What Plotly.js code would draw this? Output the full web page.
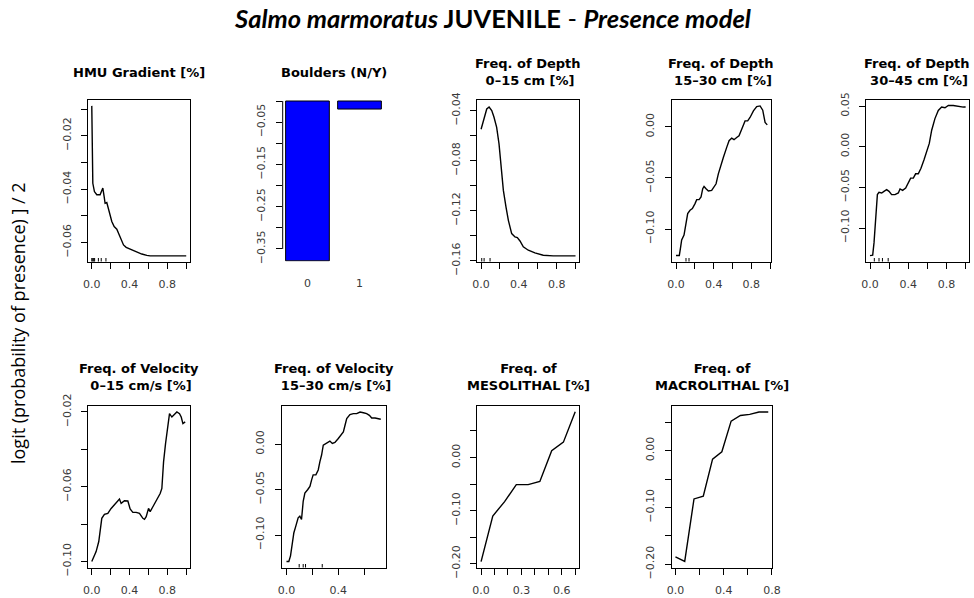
<!DOCTYPE html>
<html><head><meta charset="utf-8">
<script src="https://cdn.plot.ly/plotly-3.0.1.min.js"></script>
<style>html,body{margin:0;padding:0;background:#fff;}#chart{width:974px;height:598px;}</style>
</head><body><div id="chart"></div>
<script>
// ---------------- data ----------------
const hmuX = [0, 0.007, 0.011, 0.028, 0.053, 0.088, 0.099, 0.117, 0.131, 0.141, 0.159, 0.177, 0.194, 0.212, 0.237, 0.265, 0.290, 0.311, 0.336, 0.364, 0.399, 0.442, 0.484, 0.530, 0.583, 0.618, 0.724, 0.866, 1.0];
const hmuY = [-0.0088, -0.0253, -0.0378, -0.0409, -0.0421, -0.0421, -0.0409, -0.0396, -0.0428, -0.0453, -0.0450, -0.0471, -0.0496, -0.0521, -0.0540, -0.0550, -0.0571, -0.0590, -0.0609, -0.0618, -0.0623, -0.0630, -0.0638, -0.0643, -0.0648, -0.0650, -0.0650, -0.0650, -0.0650];
const hmuRug = [0.0, 0.01, 0.02, 0.03, 0.07, 0.1, 0.15];

const bouldersCat = ["0", "1"];
const bouldersVal = [-0.378, -0.019];

const depth015X = [0, 0.032, 0.060, 0.085, 0.113, 0.137, 0.165, 0.190, 0.211, 0.236, 0.264, 0.289, 0.324, 0.359, 0.384, 0.412, 0.447, 0.500, 0.570, 0.658, 0.764, 1.0];
const depth015Y = [-0.0549, -0.0453, -0.0387, -0.0371, -0.0400, -0.0453, -0.0533, -0.0665, -0.0825, -0.1037, -0.1170, -0.1276, -0.1382, -0.1409, -0.1414, -0.1441, -0.1488, -0.1515, -0.1536, -0.1555, -0.1560, -0.1560];
const depth015Rug = [0.007, 0.032, 0.095];

const depth1530X = [0, 0.035, 0.050, 0.060, 0.085, 0.103, 0.124, 0.149, 0.174, 0.202, 0.220, 0.245, 0.266, 0.284, 0.298, 0.319, 0.344, 0.379, 0.404, 0.426, 0.450, 0.479, 0.504, 0.539, 0.564, 0.592, 0.617, 0.645, 0.670, 0.706, 0.734, 0.762, 0.787, 0.823, 0.858, 0.894, 0.922, 0.947, 0.970];
const depth1530Y = [-0.1259, -0.1259, -0.1170, -0.1107, -0.1058, -0.0977, -0.0848, -0.0816, -0.0800, -0.0751, -0.0712, -0.0712, -0.0686, -0.0605, -0.0583, -0.0605, -0.0628, -0.0621, -0.0589, -0.0557, -0.0460, -0.0362, -0.0298, -0.0201, -0.0136, -0.0110, -0.0126, -0.0104, -0.0087, -0.0006, 0.0058, 0.0058, 0.0091, 0.0155, 0.0197, 0.0204, 0.0162, 0.0042, 0.0019];
const depth1530Rug = [0.106, 0.138];

const depth3045X = [0, 0.028, 0.042, 0.052, 0.063, 0.077, 0.094, 0.122, 0.146, 0.174, 0.199, 0.226, 0.261, 0.296, 0.314, 0.341, 0.373, 0.401, 0.425, 0.453, 0.477, 0.505, 0.533, 0.564, 0.599, 0.620, 0.645, 0.679, 0.714, 0.749, 0.784, 0.819, 0.871, 0.923, 0.976, 1.0];
const depth3045Y = [-0.1340, -0.1333, -0.1180, -0.0976, -0.0732, -0.0589, -0.0561, -0.0569, -0.0549, -0.0528, -0.0549, -0.0589, -0.0589, -0.0569, -0.0520, -0.0537, -0.0508, -0.0447, -0.0386, -0.0386, -0.0333, -0.0333, -0.0264, -0.0163, -0.0041, 0.0041, 0.0203, 0.0346, 0.0447, 0.0488, 0.0480, 0.0508, 0.0508, 0.0496, 0.0488, 0.0488];
const depth3045Rug = [0.045, 0.094, 0.13, 0.19];

const vel015X = [0, 0.046, 0.074, 0.092, 0.106, 0.134, 0.170, 0.205, 0.240, 0.276, 0.293, 0.311, 0.329, 0.346, 0.382, 0.406, 0.435, 0.470, 0.505, 0.541, 0.558, 0.576, 0.601, 0.618, 0.647, 0.675, 0.700, 0.724, 0.742, 0.760, 0.781, 0.806, 0.823, 0.848, 0.876, 0.901, 0.929, 0.947, 0.965, 0.989];
const vel015Y = [-0.1000, -0.0947, -0.0893, -0.0822, -0.0769, -0.0748, -0.0742, -0.0716, -0.0698, -0.0680, -0.0666, -0.0689, -0.0680, -0.0675, -0.0676, -0.0719, -0.0737, -0.0737, -0.0742, -0.0769, -0.0774, -0.0760, -0.0716, -0.0733, -0.0707, -0.0680, -0.0653, -0.0636, -0.0609, -0.0467, -0.0369, -0.0280, -0.0209, -0.0227, -0.0214, -0.0200, -0.0209, -0.0227, -0.0262, -0.0253];

const vel1530X = [0, 0.018, 0.031, 0.044, 0.057, 0.072, 0.090, 0.103, 0.116, 0.129, 0.142, 0.163, 0.181, 0.194, 0.206, 0.227, 0.245, 0.258, 0.271, 0.284, 0.302, 0.323, 0.335, 0.354, 0.374, 0.400, 0.421, 0.439, 0.452, 0.465, 0.490, 0.516, 0.542, 0.568, 0.594, 0.619, 0.640, 0.658, 0.684, 0.728];
const vel1530Y = [-0.1291, -0.1291, -0.1229, -0.1102, -0.0975, -0.0902, -0.0811, -0.0793, -0.0829, -0.0629, -0.0538, -0.0502, -0.0465, -0.0393, -0.0338, -0.0338, -0.0284, -0.0193, -0.0120, -0.0011, 0.0007, 0.0018, 0.0033, 0.0007, 0.0018, 0.0062, 0.0098, 0.0135, 0.0207, 0.0280, 0.0324, 0.0335, 0.0335, 0.0353, 0.0345, 0.0335, 0.0316, 0.0287, 0.0287, 0.0273];
const vel1530Rug = [0.098, 0.129, 0.147, 0.276];

const mesoX = [0, 0.087, 0.175, 0.262, 0.350, 0.437, 0.525, 0.612, 0.700];
const mesoY = [-0.196, -0.110, -0.083, -0.051, -0.051, -0.045, 0.013, 0.029, 0.086];

const macroX = [0, 0.077, 0.154, 0.231, 0.308, 0.385, 0.462, 0.539, 0.616, 0.693, 0.770];
const macroY = [-0.187, -0.195, -0.085, -0.080, -0.015, -0.002, 0.052, 0.062, 0.064, 0.068, 0.068];

const panelTitles = ["HMU Gradient [%]", "Boulders (N/Y)", "Freq. of Depth<br>\u00A00\u201315 cm [%]", "Freq. of Depth<br>\u00A015\u201330 cm [%]", "Freq. of Depth<br>\u00A030\u201345 cm [%]",
  "Freq. of Velocity<br>\u00A00\u201315 cm/s [%]", "Freq. of Velocity<br>\u00A015\u201330 cm/s [%]", "Freq. of<br>MESOLITHAL [%]", "Freq. of<br>MACROLITHAL [%]"];
const mainTitle = "<b><i>Salmo marmoratus</i> JUVENILE</b> - <b><i>Presence model</i></b>";
const yLabel = "logit (probability of presence) ] / 2";

// ---------------- layout helpers ----------------
const W = 974, H = 598;
const MINUS = "\u2212";
function xd(l, r) { return [l / W, r / W]; }
function yd(t, b) { return [(H - b) / H, (H - t) / H]; }
function fmt(v, d) { return (v < -1e-12 ? MINUS : "") + Math.abs(v).toFixed(d); }
function tk(vals, labeled, d) {
  return { tickmode: "array", tickvals: vals, ticktext: vals.map(v => labeled.some(l => Math.abs(l - v) < 1e-9) ? fmt(v, d) : "") };
}
const tickFont = { family: "DejaVu Sans", size: 11, color: "#3a3a3a" };
function baseAxis(extra) {
  return Object.assign({ showline: true, mirror: true, linecolor: "#000", linewidth: 1, ticks: "outside", ticklen: 6, tickwidth: 1,
    tickcolor: "#000", showgrid: false, zeroline: false, tickfont: tickFont, fixedrange: true, ticklabelstandoff: 6 }, extra);
}

// panel geometry: [left, right, top, bottom] in px, x range, y range
const row1 = [100, 261.5], row2 = [406, 567.5];
const panels = [
  { box: [88, 190, ...row1], xr: [-0.04, 1.04], yr: [-0.0671, -0.0066], xt: tk([0, .2, .4, .6, .8, 1], [0, .4, .8], 1), yt: tk([-.06, -.05, -.04, -.03, -.02, -.01], [-.02, -.04, -.06], 2) },
  { box: [282.7, 385, ...row1], xr: [-0.476, 1.49], yr: [-0.3796, 0.0024] },
  { box: [477.3, 579.3, ...row1], xr: [-0.04, 1.04], yr: [-0.1605, -0.0315], xt: tk([0, .2, .4, .6, .8, 1], [0, .4, .8], 1), yt: tk([-.16, -.14, -.12, -.10, -.08, -.06, -.04], [-.04, -.08, -.12, -.16], 2) },
  { box: [671.7, 771, ...row1], xr: [-0.046, 1.01], yr: [-0.1317, 0.0262], xt: tk([0, .2, .4, .6, .8, 1], [0, .4, .8], 1), yt: tk([-.10, -.05, 0], [-.10, -.05, 0], 2) },
  { box: [866, 968.5, ...row1], xr: [-0.042, 1.03], yr: [-0.1412, 0.0575], xt: tk([0, .2, .4, .6, .8, 1], [0, .4, .8], 1), yt: tk([-.10, -.05, 0, .05], [-.10, -.05, 0, .05], 2) },
  { box: [88, 190, ...row2], xr: [-0.04, 1.04], yr: [-0.1032, -0.0168], xt: tk([0, .2, .4, .6, .8, 1], [0, .4, .8], 1), yt: tk([-.10, -.08, -.06, -.04, -.02], [-.02, -.06, -.10], 2) },
  { box: [281.7, 385.7, ...row2], xr: [-0.037, 0.766], yr: [-0.1357, 0.0419], xt: tk([0, .2, .4, .6], [0, .4], 1), yt: tk([-.10, -.05, 0], [-.10, -.05, 0], 2) },
  { box: [477.3, 579, ...row2], xr: [-0.028, 0.728], yr: [-0.207, 0.097], xt: tk([0, .1, .2, .3, .4, .5, .6, .7], [0, .3, .6], 1), yt: tk([-.20, -.15, -.10, -.05, 0, .05], [0, -.10, -.20], 2) },
  { box: [671.7, 772, ...row2], xr: [-0.031, 0.801], yr: [-0.2058, 0.0787], xt: tk([0, .2, .4, .6, .8], [0, .4, .8], 1), yt: tk([-.20, -.15, -.10, -.05, 0, .05], [0, -.10, -.20], 2) }
];

const lineStyle = { color: "#000", width: 1.4 };
const curves = [
  [0, hmuX, hmuY], [2, depth015X, depth015Y], [3, depth1530X, depth1530Y], [4, depth3045X, depth3045Y],
  [5, vel015X, vel015Y], [6, vel1530X, vel1530Y], [7, mesoX, mesoY], [8, macroX, macroY]
];
const rugs = [[0, hmuRug], [2, depth015Rug], [3, depth1530Rug], [4, depth3045Rug], [6, vel1530Rug]];

function axName(i, a) { return a + (i === 0 ? "" : String(i + 1)); }
const traces = [];
curves.forEach(([i, xs, ys]) => {
  traces.push({ type: "scatter", mode: "lines", x: xs, y: ys, line: lineStyle, xaxis: axName(i, "x"), yaxis: axName(i, "y"), hoverinfo: "skip" });
});
rugs.forEach(([i, xs]) => {
  const yb = panels[i].yr[0];
  traces.push({ type: "scatter", mode: "markers", x: xs, y: xs.map(() => yb), marker: { symbol: "line-ns", size: 5, line: { color: "#000", width: 1 } },
    xaxis: axName(i, "x"), yaxis: axName(i, "y"), hoverinfo: "skip", cliponaxis: true });
});
traces.push({ type: "bar", x: bouldersCat.map((c, k) => k), y: bouldersVal, width: 0.84, marker: { color: "#0000FF", line: { color: "#000", width: 1 } },
  xaxis: "x2", yaxis: "y2", hoverinfo: "skip" });

const layout = {
  width: W, height: H, margin: { l: 0, r: 0, t: 0, b: 0 }, paper_bgcolor: "#fff", plot_bgcolor: "#fff", showlegend: false,
  title: { text: mainTitle, font: { family: "Lato", size: 25.5, color: "#000" }, x: 493 / W, xanchor: "center", y: 1 - 19 / H, yanchor: "middle" },
  annotations: [], shapes: []
};
panels.forEach((p, i) => {
  const xa = axName(i, "xaxis"), ya = axName(i, "yaxis");
  const xn = axName(i, "x"), yn = axName(i, "y");
  if (i === 1) {
    layout[xa] = baseAxis({ domain: xd(p.box[0], p.box[1]), range: p.xr, anchor: yn, showline: false, mirror: false, ticks: "", tickmode: "array", tickvals: [0, 1], ticktext: bouldersCat, ticklabelstandoff: 13 });
    layout[ya] = baseAxis(Object.assign({ domain: yd(p.box[2], p.box[3]), range: p.yr, anchor: xn, showline: false, mirror: false, tickangle: -90 },
      tk([0, -.05, -.10, -.15, -.20, -.25, -.30, -.35], [-.05, -.15, -.25, -.35], 2)));
    layout.shapes.push({ type: "line", xref: "x2 domain", yref: "y2", x0: 0, x1: 0, y0: 0, y1: -0.35, line: { color: "#000", width: 1 } });
  } else {
    layout[xa] = baseAxis(Object.assign({ domain: xd(p.box[0], p.box[1]), range: p.xr, anchor: yn }, p.xt));
    layout[ya] = baseAxis(Object.assign({ domain: yd(p.box[2], p.box[3]), range: p.yr, anchor: xn, tickangle: -90 }, p.yt));
  }
  const cy = i < 5 ? 72 : 377;
  layout.annotations.push({ text: panelTitles[i], xref: "paper", yref: "paper", x: ((p.box[0] + p.box[1]) / 2) / W, y: 1 - cy / H,
    xanchor: "center", yanchor: "middle", showarrow: false, font: { family: "DejaVu Sans", size: 13, color: "#000", weight: "bold" } });
});
layout.annotations.push({ text: yLabel, xref: "paper", yref: "paper", x: 18 / W, y: 1 - 323 / H, xanchor: "center", yanchor: "middle",
  textangle: -90, showarrow: false, font: { family: "Open Sans", size: 18, color: "#000" } });

Plotly.newPlot("chart", traces, layout, { displayModeBar: false, staticPlot: true });
</script>
</body></html>
